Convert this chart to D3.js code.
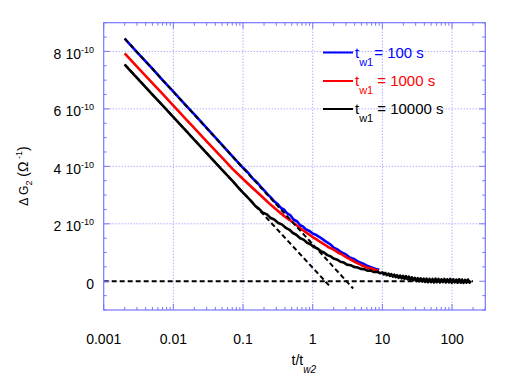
<!DOCTYPE html>
<html>
<head>
<meta charset="utf-8">
<script src="https://cdn.jsdelivr.net/npm/d3@7"></script>
<style>
  body { margin: 0; background: #fff; }
  text { font-family: Arial, "Liberation Sans", sans-serif; }
</style>
</head>
<body>
<script>
// values in units of 1e-10 Ohm^-1
var blue = [[0.002,8.45],[0.003,7.98],[0.005,7.40],[0.007,7.00],[0.01,6.60],[0.015,6.13],[0.02,5.81],[0.03,5.34],
  [0.05,4.75],[0.07,4.36],[0.1,3.95],[0.12,3.76],[0.14,3.56],[0.16,3.44],[0.18,3.28],[0.2,3.17],[0.22,3.05],
  [0.25,2.92],[0.28,2.78],[0.31,2.70],[0.35,2.55],[0.39,2.49],[0.43,2.36],[0.48,2.29],[0.53,2.15],[0.6,2.08],
  [0.66,1.95],[0.73,1.90],[0.8,1.80],[0.9,1.75],[1.0,1.66],[1.1,1.62],[1.25,1.54],[1.4,1.46],[1.6,1.36],
  [1.8,1.28],[2.0,1.17],[2.3,1.10],[2.6,1.00],[3.0,0.93],[3.4,0.83],[3.9,0.78],[4.5,0.68],[5.2,0.62],
  [6,0.54],[7,0.48],[8,0.43],[9,0.40]];

var red = [[0.002,7.93],[0.003,7.47],[0.005,6.90],[0.007,6.52],[0.01,6.11],[0.015,5.65],[0.02,5.33],[0.03,4.87],
  [0.05,4.30],[0.07,3.92],[0.1,3.56],[0.13,3.30],[0.16,3.10],[0.2,2.88],[0.25,2.66],[0.3,2.50],[0.35,2.36],
  [0.4,2.25],[0.47,2.13],[0.55,2.00],[0.65,1.86],[0.75,1.75],[0.87,1.64],[1.0,1.54],[1.15,1.45],[1.3,1.36],
  [1.5,1.27],[1.7,1.18],[2.0,1.10],[2.3,1.00],[2.7,0.92],[3.1,0.82],[3.6,0.74],[4.2,0.65],[5,0.56],
  [6,0.48],[7,0.44],[8,0.39],[8.7,0.38]];

var black = [[0.002,7.54],[0.003,7.08],[0.005,6.50],[0.007,6.12],[0.01,5.71],[0.015,5.25],[0.02,4.92],[0.03,4.46],
  [0.05,3.88],[0.07,3.50],[0.09,3.20],[0.11,2.98],[0.13,2.80],[0.15,2.62],[0.17,2.52],[0.19,2.40],[0.22,2.33],
  [0.25,2.20],[0.28,2.15],[0.32,2.03],[0.36,1.98],[0.41,1.86],[0.46,1.80],[0.52,1.68],[0.58,1.62],[0.66,1.50],
  [0.74,1.45],[0.83,1.34],[0.93,1.29],[1.04,1.19],[1.17,1.14],[1.3,1.05],[1.45,1.00],[1.62,0.91],[1.8,0.87],
  [2.0,0.79],[2.25,0.75],[2.5,0.68],[2.8,0.65],[3.1,0.58],[3.5,0.56],[3.9,0.50],[4.4,0.48],[4.9,0.43],
  [5.5,0.42],[6.1,0.37],[6.8,0.37],[7.6,0.32],[8.5,0.33],[9.3,0.28],
  [10,0.31],[10.5,0.24],[11,0.29],[11.6,0.21],[12.2,0.27],[12.8,0.19],[13.4,0.25],[14.1,0.16],[14.8,0.23],
  [15.5,0.14],[16.3,0.21],[17.1,0.12],[18,0.20],[18.9,0.10],[19.8,0.19],[20.8,0.08],[21.8,0.18],[22.9,0.07],
  [24,0.16],[25.2,0.05],[26.5,0.14],[27.8,0.03],[29.2,0.12],[30.7,0.01],[32.2,0.11],[33.8,0.00],[35.5,0.10],
  [37.3,-0.01],[39.2,0.09],[41.1,-0.02],[43.2,0.09],[45.3,-0.03],[47.6,0.08],[50,-0.03],[52.5,0.08],
  [55.1,-0.04],[57.9,0.09],[60.8,-0.03],[63.8,0.08],[67,-0.04],[70.4,0.07],[73.9,-0.03],[77.6,0.08],
  [81.5,-0.04],[85.5,0.07],[89.8,-0.04],[94.3,0.08],[99,-0.05],[104,0.07],[109,-0.04],[115,0.06],
  [120,-0.05],[126,0.07],[133,-0.05],[139,0.06],[146,-0.06],[154,0.05],[161,-0.05],[169,0.06],[178,-0.05],[186,0.02]];

var fitBlue = [[0.002,8.45],[3.8,-0.25]];
var fitBlack = [[0.002,7.55],[1.77,-0.18]];
var zeroLine = [[0.001,0],[200,0]];

var xMajor = [0.001, 0.01, 0.1, 1, 10, 100];
var xLabels = ["0.001", "0.01", "0.1", "1", "10", "100"];
var yMajor = [0, 2, 4, 6, 8];
var yLabels = ["0", "2", "4", "6", "8"];

var legendNames = ["= 100 s", "= 1000 s", "= 10000 s"];
var legendColors = ["#0000ff", "#ff0000", "#000000"];

var svg = d3.select("body").append("svg")
  .attr("width", 509)
  .attr("height", 382);

var pLeft = 103.7, pRight = 485.3, pTop = 22.7, pBottom = 310;

var x = d3.scaleLog().domain([0.001, 300]).range([pLeft, pRight]);
var y = d3.scaleLinear().domain([-1, 9]).range([pBottom, pTop]);

var frameColor = "#7777ff";

// minor ticks
var xMinor = [];
[0.001, 0.01, 0.1, 1, 10, 100].forEach(function(d) {
  for (var k = 2; k <= 9; k++) if (d * k <= 300) xMinor.push(d * k);
});
var yMinor = d3.range(-1, 9.01, 0.5).filter(function(v) { return v % 2 != 0; });

// grid
var grid = svg.append("g")
  .attr("stroke", "#8c8cff")
  .attr("stroke-width", 1)
  .attr("stroke-dasharray", "1,2");
grid.selectAll(".gx").data(xMajor.slice(1)).enter().append("line")
  .attr("x1", function(d) { return x(d); }).attr("x2", function(d) { return x(d); })
  .attr("y1", pTop).attr("y2", pBottom);
grid.selectAll(".gy").data(yMajor.slice(1)).enter().append("line")
  .attr("y1", function(d) { return y(d); }).attr("y2", function(d) { return y(d); })
  .attr("x1", pLeft).attr("x2", pRight);

var line = d3.line()
  .x(function(d) { return x(d[0]); })
  .y(function(d) { return y(d[1]); });

// curves
[[blue, "#0000ff"], [red, "#ff0000"], [black, "#000000"]].forEach(function(s) {
  svg.append("path")
    .datum(s[0])
    .attr("fill", "none")
    .attr("stroke", s[1])
    .attr("stroke-width", 2.6)
    .attr("stroke-linejoin", "round")
    .attr("d", line);
});

// dashed fits and zero line
[fitBlue, fitBlack, zeroLine].forEach(function(s) {
  svg.append("path")
    .datum(s)
    .attr("fill", "none")
    .attr("stroke", "#000")
    .attr("stroke-width", 2)
    .attr("stroke-dasharray", "5,3")
    .attr("d", line);
});

// frame
svg.append("rect")
  .attr("x", pLeft).attr("y", pTop)
  .attr("width", pRight - pLeft).attr("height", pBottom - pTop)
  .attr("fill", "none").attr("stroke", frameColor).attr("stroke-width", 1.2);

// ticks (inward, all four sides)
var ticks = svg.append("g").attr("stroke", frameColor).attr("stroke-width", 1);
function xt(vals, len) {
  vals.forEach(function(v) {
    ticks.append("line").attr("x1", x(v)).attr("x2", x(v)).attr("y1", pBottom).attr("y2", pBottom - len);
    ticks.append("line").attr("x1", x(v)).attr("x2", x(v)).attr("y1", pTop).attr("y2", pTop + len);
  });
}
function yt(vals, len) {
  vals.forEach(function(v) {
    ticks.append("line").attr("y1", y(v)).attr("y2", y(v)).attr("x1", pLeft).attr("x2", pLeft + len);
    ticks.append("line").attr("y1", y(v)).attr("y2", y(v)).attr("x1", pRight).attr("x2", pRight - len);
  });
}
xt(xMajor, 6); xt(xMinor, 3);
yt(yMajor, 6); yt(yMinor, 3);

// x labels
svg.append("g").selectAll("text").data(xMajor).enter().append("text")
  .attr("x", function(d) { return x(d); })
  .attr("y", 343.5)
  .attr("text-anchor", "middle")
  .attr("font-size", 14)
  .text(function(d, i) { return xLabels[i]; });

// y labels
yMajor.forEach(function(v, i) {
  var t = svg.append("text")
    .attr("x", 94)
    .attr("y", y(v) + 7.5)
    .attr("text-anchor", "end")
    .attr("font-size", 14);
  if (v === 0) {
    t.text(yLabels[i]);
  } else {
    t.append("tspan").text(yLabels[i]);
    t.append("tspan").attr("dx", 4).text("10");
    t.append("tspan").attr("dy", -6).attr("font-size", 9).text("-10");
  }
});

// axis titles
var xt1 = svg.append("text").attr("x", 291.5).attr("y", 365).attr("font-size", 14);
xt1.append("tspan").text("t/t");
xt1.append("tspan").attr("dy", 8).attr("font-size", 10).attr("font-style", "italic").text("w2");

var yt1 = svg.append("text")
  .attr("transform", "translate(28,176) rotate(-90)")
  .attr("text-anchor", "middle")
  .attr("font-size", 14);
yt1.append("tspan").attr("font-size", 12).text("\u0394 G");
yt1.append("tspan").attr("dy", 4).attr("font-size", 9).text("2");
yt1.append("tspan").attr("dy", -4).text(" (\u03a9");
yt1.append("tspan").attr("dy", -6).attr("font-size", 9).text(" -1");
yt1.append("tspan").attr("dy", 6).text(")");

// legend
var legY = [52.5, 81, 109];
legendNames.forEach(function(name, i) {
  svg.append("line")
    .attr("x1", 323).attr("x2", 353)
    .attr("y1", legY[i]).attr("y2", legY[i])
    .attr("stroke", legendColors[i]).attr("stroke-width", 2);
  var t = svg.append("text")
    .attr("x", 355).attr("y", legY[i] + 5)
    .attr("font-size", 15)
    .attr("fill", legendColors[i]);
  t.append("tspan").text("t");
  t.append("tspan").attr("dy", 8).attr("font-size", 11).text("w1");
  t.append("tspan").attr("dy", -8).attr("dx", i == 0 ? 1 : 4).text(name);
});
</script>
</body>
</html>
